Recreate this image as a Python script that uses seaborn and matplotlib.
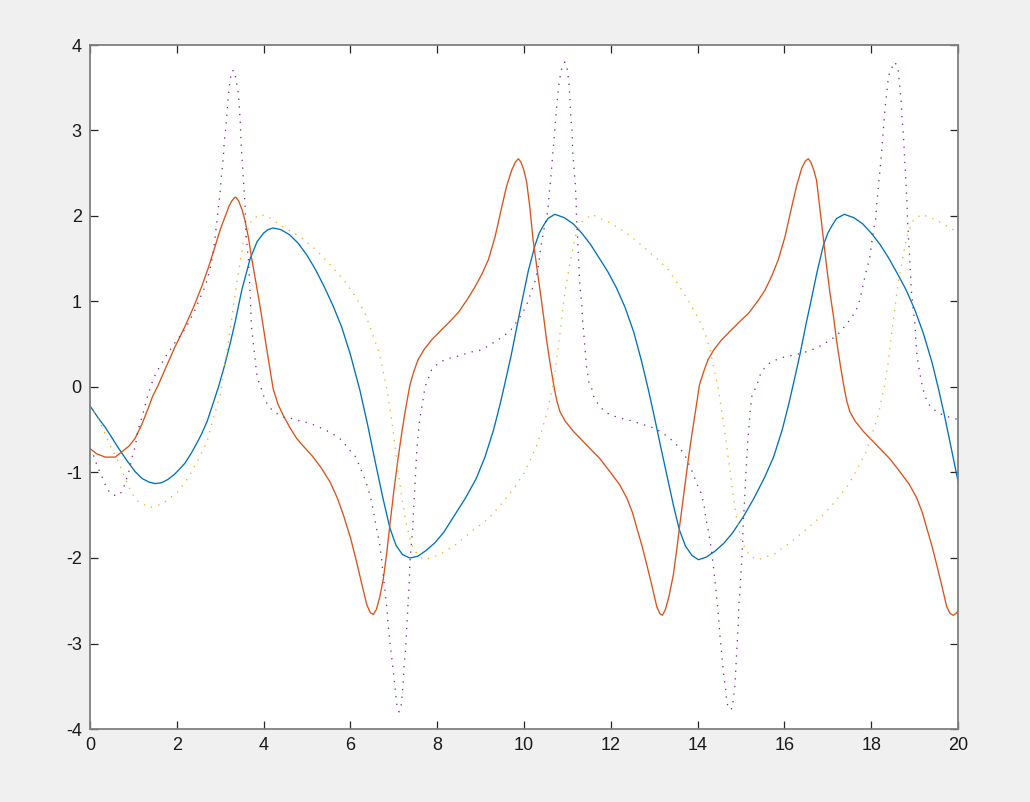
import matplotlib
matplotlib.use("Agg")
import matplotlib.pyplot as plt
import seaborn as sns

# ---- data ----
blue_x = [0, 0.2, 0.35, 0.5, 0.65, 0.85, 1.04, 1.2, 1.35, 1.5,
          1.65, 1.8, 1.95, 2.1, 2.19, 2.35, 2.5, 2.57, 2.7, 2.85,
          2.96, 3.1, 3.23, 3.34, 3.5, 3.69, 3.85, 4.0, 4.1, 4.22,
          4.4, 4.6, 4.8, 5.0, 5.2, 5.4, 5.6, 5.8, 6.0, 6.22,
          6.4, 6.57, 6.75, 6.91, 7.05, 7.2, 7.37, 7.55, 7.75, 7.95,
          8.15, 8.4, 8.65, 8.9, 9.1, 9.3, 9.45, 9.55, 9.7, 9.85,
          9.94, 10.1, 10.25, 10.35, 10.45, 10.55, 10.71, 10.93, 11.13, 11.33,
          11.53, 11.73, 11.93, 12.13, 12.33, 12.53, 12.71, 12.86, 13.0, 13.15,
          13.3, 13.45, 13.58, 13.72, 13.87, 14.02, 14.2, 14.4, 14.6, 14.8,
          15.05, 15.3, 15.55, 15.75, 15.95, 16.1, 16.2, 16.35, 16.5, 16.59,
          16.75, 16.9, 17.0, 17.1, 17.2, 17.38, 17.6, 17.8, 18.0, 18.2,
          18.4, 18.6, 18.8, 19.0, 19.2, 19.4, 19.55, 19.7, 19.85, 20.0]
blue_y = [-0.22, -0.37, -0.47, -0.59, -0.71, -0.86, -0.99, -1.07, -1.11, -1.13,
          -1.12, -1.08, -1.02, -0.94, -0.89, -0.76, -0.62, -0.55, -0.4, -0.17,
          0.0, 0.25, 0.51, 0.75, 1.14, 1.5, 1.7, 1.8, 1.84, 1.86,
          1.84, 1.78, 1.68, 1.54, 1.37, 1.17, 0.95, 0.7, 0.38, -0.04,
          -0.45, -0.87, -1.3, -1.65, -1.85, -1.96, -2.0, -1.98, -1.91, -1.82,
          -1.7, -1.5, -1.3, -1.07, -0.82, -0.5, -0.2, 0.02, 0.36, 0.74,
          0.97, 1.36, 1.65, 1.8, 1.89, 1.97, 2.02, 1.98, 1.91, 1.8,
          1.67, 1.51, 1.35, 1.16, 0.93, 0.64, 0.3, -0.02, -0.34, -0.7,
          -1.05, -1.4, -1.67, -1.86, -1.97, -2.02, -1.99, -1.92, -1.83, -1.71,
          -1.52, -1.3, -1.05, -0.82, -0.5, -0.2, 0.02, 0.36, 0.74, 0.95,
          1.34, 1.66, 1.8, 1.89, 1.97, 2.02, 1.98, 1.91, 1.8, 1.67,
          1.51, 1.33, 1.14, 0.91, 0.63, 0.29, -0.02, -0.36, -0.73, -1.1]

red_x = [0, 0.15, 0.35, 0.58, 0.73, 0.9, 1.04, 1.2, 1.34, 1.45,
         1.57, 1.75, 1.95, 2.19, 2.4, 2.57, 2.73, 2.88, 3.0, 3.11,
         3.2, 3.26, 3.32, 3.36, 3.42, 3.5, 3.57, 3.65, 3.72, 3.82,
         3.92, 4.07, 4.22, 4.33, 4.45, 4.6, 4.76, 4.93, 5.11, 5.32,
         5.53, 5.7, 5.84, 6.0, 6.14, 6.27, 6.38, 6.46, 6.53, 6.6,
         6.68, 6.76, 6.84, 6.91, 7.0, 7.1, 7.18, 7.26, 7.32, 7.37,
         7.46, 7.56, 7.7, 7.87, 8.1, 8.3, 8.5, 8.7, 8.87, 9.03,
         9.18, 9.33, 9.49, 9.6, 9.72, 9.8, 9.87, 9.93, 10.0, 10.06,
         10.13, 10.21, 10.29, 10.37, 10.45, 10.52, 10.61, 10.7, 10.76, 10.83,
         10.95, 11.14, 11.33, 11.52, 11.75, 11.98, 12.2, 12.37, 12.5, 12.6,
         12.72, 12.83, 12.95, 13.06, 13.13, 13.19, 13.26, 13.34, 13.44, 13.52,
         13.59, 13.69, 13.79, 13.87, 13.95, 14.0, 14.04, 14.14, 14.24, 14.38,
         14.55, 14.78, 14.98, 15.17, 15.38, 15.55, 15.71, 15.86, 16.01, 16.17,
         16.28, 16.4, 16.48, 16.55, 16.61, 16.68, 16.74, 16.81, 16.9, 16.97,
         17.05, 17.13, 17.2, 17.29, 17.38, 17.44, 17.51, 17.63, 17.82, 18.01,
         18.2, 18.43, 18.66, 18.88, 19.05, 19.18, 19.28, 19.4, 19.51, 19.63,
         19.74, 19.82, 19.89, 19.95, 20.0]
red_y = [-0.72, -0.78, -0.82, -0.82, -0.76, -0.69, -0.6, -0.43, -0.25, -0.1,
         0.02, 0.23, 0.46, 0.71, 0.95, 1.17, 1.4, 1.64, 1.84, 1.99,
         2.11, 2.17, 2.21, 2.22, 2.18, 2.08, 1.95, 1.75, 1.52, 1.23,
         0.94, 0.45, -0.02, -0.2, -0.33, -0.47, -0.6, -0.7, -0.8, -0.94,
         -1.11, -1.3, -1.5, -1.76, -2.04, -2.32, -2.55, -2.64, -2.66, -2.6,
         -2.45, -2.24, -1.93, -1.61, -1.22, -0.83, -0.55, -0.29, -0.12, 0.02,
         0.18, 0.32, 0.44, 0.55, 0.67, 0.77, 0.88, 1.03, 1.17, 1.32,
         1.49, 1.75, 2.11, 2.35, 2.54, 2.63, 2.67, 2.63, 2.53, 2.4,
         2.12, 1.72, 1.42, 1.13, 0.83, 0.55, 0.25, -0.02, -0.17, -0.29,
         -0.4, -0.52, -0.62, -0.72, -0.84, -0.99, -1.14, -1.3, -1.47, -1.65,
         -1.86, -2.08, -2.33, -2.57, -2.65, -2.67, -2.6, -2.45, -2.2, -1.9,
         -1.61, -1.22, -0.83, -0.55, -0.29, -0.12, 0.02, 0.18, 0.32, 0.44,
         0.55, 0.67, 0.77, 0.86, 1.0, 1.13, 1.3, 1.49, 1.75, 2.11,
         2.35, 2.56, 2.64, 2.67, 2.63, 2.53, 2.42, 2.12, 1.72, 1.42,
         1.1, 0.83, 0.55, 0.25, -0.02, -0.17, -0.29, -0.4, -0.52, -0.62,
         -0.72, -0.84, -0.99, -1.14, -1.3, -1.47, -1.65, -1.86, -2.08, -2.33,
         -2.57, -2.65, -2.67, -2.65, -2.62]

yellow_x = [0, 0.23, 0.46, 0.65, 0.81, 0.96, 1.11, 1.38, 1.65, 1.84,
            2.04, 2.3, 2.5, 2.69, 2.84, 3.0, 3.23, 3.38, 3.53, 3.72,
            3.92, 4.11, 4.45, 4.84, 5.22, 5.57, 5.88, 6.14, 6.34, 6.53,
            6.67, 6.83, 6.92, 7.0, 7.09, 7.18, 7.28, 7.4, 7.55, 7.72,
            8.06, 8.41, 8.79, 9.18, 9.51, 9.79, 10.01, 10.12, 10.28, 10.41,
            10.52, 10.64, 10.71, 10.83, 10.94, 11.06, 11.18, 11.33, 11.56, 11.98,
            12.37, 12.75, 13.13, 13.33, 13.59, 13.82, 14.02, 14.17, 14.29, 14.4,
            14.48, 14.55, 14.64, 14.74, 14.82, 14.9, 15.01, 15.21, 15.4, 15.78,
            16.13, 16.47, 16.69, 16.86, 17.05, 17.2, 17.36, 17.49, 17.6, 17.7,
            17.88, 18.01, 18.13, 18.22, 18.3, 18.39, 18.47, 18.55, 18.62, 18.72,
            18.82, 18.97, 19.16, 19.51, 19.89, 20.0]
yellow_y = [-0.21, -0.41, -0.68, -0.87, -1.07, -1.24, -1.34, -1.41, -1.37, -1.3,
            -1.22, -1.03, -0.84, -0.65, -0.37, -0.09, 0.67, 1.21, 1.68, 1.95,
            2.02, 1.99, 1.87, 1.76, 1.6, 1.41, 1.23, 1.04, 0.86, 0.59,
            0.39, 0.0, -0.27, -0.58, -0.95, -1.28, -1.58, -1.83, -1.97, -2.02,
            -1.96, -1.85, -1.69, -1.54, -1.35, -1.17, -1.0, -0.88, -0.7, -0.51,
            -0.32, -0.05, 0.16, 0.63, 1.1, 1.45, 1.76, 1.93, 2.02, 1.92,
            1.8, 1.64, 1.47, 1.37, 1.17, 0.98, 0.8, 0.63, 0.43, 0.16,
            -0.02, -0.27, -0.58, -0.95, -1.26, -1.54, -1.81, -1.98, -2.02, -1.95,
            -1.82, -1.68, -1.58, -1.51, -1.41, -1.32, -1.22, -1.13, -1.03, -0.94,
            -0.76, -0.56, -0.39, -0.19, 0.0, 0.28, 0.63, 0.94, 1.21, 1.49,
            1.76, 1.95, 2.02, 1.95, 1.84, 1.82]

purple_x = [0, 0.08, 0.15, 0.23, 0.31, 0.38, 0.5, 0.61, 0.69, 0.78,
            0.84, 0.9, 0.98, 1.04, 1.11, 1.21, 1.31, 1.42, 1.51, 1.61,
            1.71, 1.84, 1.96, 2.11, 2.23, 2.33, 2.42, 2.5, 2.57, 2.65,
            2.71, 2.76, 2.83, 2.88, 2.92, 2.96, 3.0, 3.03, 3.07, 3.09,
            3.13, 3.16, 3.19, 3.23, 3.27, 3.33, 3.42, 3.46, 3.49, 3.53,
            3.57, 3.59, 3.65, 3.69, 3.72, 3.78, 3.84, 3.9, 3.96, 4.02,
            4.11, 4.3, 4.49, 4.68, 4.85, 5.04, 5.24, 5.41, 5.6, 5.8,
            5.95, 6.11, 6.2, 6.28, 6.36, 6.41, 6.47, 6.54, 6.6, 6.64,
            6.68, 6.72, 6.76, 6.8, 6.84, 6.87, 6.91, 6.95, 6.99, 7.03,
            7.07, 7.12, 7.17, 7.21, 7.24, 7.27, 7.29, 7.32, 7.34, 7.36,
            7.37, 7.4, 7.43, 7.45, 7.47, 7.49, 7.51, 7.53, 7.56, 7.6,
            7.66, 7.72, 7.87, 8.03, 8.22, 8.41, 8.6, 8.79, 8.99, 9.18,
            9.33, 9.52, 9.7, 9.83, 9.96, 10.06, 10.18, 10.25, 10.33, 10.38,
            10.44, 10.51, 10.55, 10.58, 10.62, 10.65, 10.68, 10.71, 10.74, 10.77,
            10.81, 10.87, 10.94, 11.0, 11.04, 11.06, 11.08, 11.11, 11.12, 11.15,
            11.18, 11.2, 11.21, 11.23, 11.25, 11.27, 11.29, 11.33, 11.35, 11.38,
            11.41, 11.44, 11.5, 11.56, 11.61, 11.73, 11.89, 12.07, 12.26, 12.44,
            12.63, 12.81, 12.99, 13.17, 13.36, 13.54, 13.69, 13.86, 14.0, 14.08,
            14.13, 14.17, 14.19, 14.23, 14.26, 14.29, 14.32, 14.36, 14.38, 14.42,
            14.44, 14.46, 14.49, 14.52, 14.54, 14.57, 14.59, 14.61, 14.64, 14.67,
            14.72, 14.8, 14.82, 14.84, 14.86, 14.88, 14.9, 14.92, 14.94, 14.95,
            14.98, 15.0, 15.02, 15.04, 15.05, 15.07, 15.09, 15.11, 15.13, 15.15,
            15.18, 15.21, 15.25, 15.3, 15.36, 15.4, 15.47, 15.63, 15.82, 15.99,
            16.18, 16.37, 16.55, 16.71, 16.9, 17.09, 17.28, 17.44, 17.57, 17.67,
            17.74, 17.82, 17.9, 17.96, 18.01, 18.06, 18.1, 18.13, 18.16, 18.2,
            18.23, 18.26, 18.29, 18.32, 18.36, 18.4, 18.47, 18.55, 18.62, 18.66,
            18.69, 18.71, 18.74, 18.76, 18.78, 18.8, 18.82, 18.83, 18.85, 18.87,
            18.89, 18.91, 18.93, 18.97, 19.01, 19.03, 19.06, 19.12, 19.19, 19.26,
            19.35, 19.53, 19.72, 19.91, 20.0]
purple_y = [-0.72, -0.8, -0.9, -1.0, -1.09, -1.18, -1.26, -1.27, -1.26, -1.17,
            -1.08, -0.98, -0.8, -0.7, -0.5, -0.33, -0.14, 0.04, 0.15, 0.24,
            0.33, 0.43, 0.52, 0.62, 0.71, 0.81, 0.9, 1.0, 1.08, 1.17,
            1.27, 1.37, 1.54, 1.74, 1.92, 2.11, 2.29, 2.48, 2.67, 2.85,
            3.04, 3.23, 3.42, 3.6, 3.7, 3.7, 3.43, 3.12, 2.77, 2.46,
            2.15, 1.82, 1.49, 1.1, 0.71, 0.43, 0.16, 0.04, -0.04, -0.13,
            -0.23, -0.31, -0.36, -0.37, -0.4, -0.42, -0.46, -0.5, -0.55, -0.62,
            -0.72, -0.81, -0.91, -1.01, -1.11, -1.2, -1.3, -1.48, -1.65, -1.75,
            -1.85, -2.02, -2.22, -2.39, -2.59, -2.78, -2.98, -3.15, -3.33, -3.52,
            -3.72, -3.8, -3.72, -3.5, -3.25, -3.08, -2.9, -2.63, -2.43, -2.24,
            -2.04, -1.87, -1.69, -1.5, -1.3, -1.13, -0.93, -0.74, -0.56, -0.37,
            -0.19, 0.0, 0.2, 0.28, 0.33, 0.35, 0.38, 0.41, 0.43, 0.48,
            0.53, 0.59, 0.67, 0.76, 0.86, 0.96, 1.13, 1.23, 1.41, 1.6,
            1.8, 1.95, 2.07, 2.26, 2.46, 2.64, 2.83, 3.01, 3.2, 3.38,
            3.57, 3.73, 3.8, 3.71, 3.53, 3.34, 3.14, 2.97, 2.77, 2.58,
            2.38, 2.19, 1.99, 1.8, 1.56, 1.37, 1.17, 0.98, 0.78, 0.61,
            0.43, 0.24, 0.04, -0.02, -0.12, -0.22, -0.3, -0.34, -0.37, -0.39,
            -0.42, -0.45, -0.48, -0.53, -0.6, -0.69, -0.78, -0.97, -1.15, -1.24,
            -1.34, -1.44, -1.54, -1.63, -1.72, -1.81, -1.91, -2.08, -2.18, -2.37,
            -2.46, -2.56, -2.74, -2.94, -3.04, -3.21, -3.31, -3.41, -3.5, -3.68,
            -3.77, -3.76, -3.67, -3.58, -3.49, -3.31, -3.11, -2.92, -2.74, -2.55,
            -2.35, -2.18, -1.98, -1.8, -1.61, -1.44, -1.24, -1.05, -0.85, -0.68,
            -0.48, -0.29, -0.11, -0.04, 0.0, 0.08, 0.18, 0.27, 0.32, 0.35,
            0.37, 0.39, 0.42, 0.45, 0.5, 0.56, 0.64, 0.74, 0.83, 0.92,
            1.02, 1.21, 1.39, 1.49, 1.68, 1.86, 1.95, 2.15, 2.32, 2.52,
            2.69, 2.89, 3.08, 3.26, 3.45, 3.64, 3.73, 3.8, 3.71, 3.51,
            3.34, 3.14, 2.97, 2.77, 2.58, 2.4, 2.21, 2.03, 1.84, 1.64,
            1.47, 1.27, 1.1, 0.9, 0.73, 0.53, 0.35, 0.16, -0.02, -0.13,
            -0.22, -0.3, -0.34, -0.37, -0.38]

x_ticks = [0, 2, 4, 6, 8, 10, 12, 14, 16, 18, 20]
y_ticks = [-4, -3, -2, -1, 0, 1, 2, 3, 4]

series = [
    (blue_x, blue_y, "#0072BD", "-"),
    (red_x, red_y, "#D95319", "-"),
    (yellow_x, yellow_y, "#EDB120", (0, (1, 4.8))),
    (purple_x, purple_y, "#7E2F8E", (0, (1, 4.8))),
]

# ---- drawing ----
sns.set_style("white")
plt.rcParams["font.family"] = ["Liberation Sans", "DejaVu Sans"]
plt.rcParams["axes.unicode_minus"] = False

fig = plt.figure(figsize=(10.3, 8.02), dpi=100, facecolor="#F0F0F0")
ax = fig.add_axes([90 / 1030, 1 - 729 / 802, 868 / 1030, 684 / 802])
ax.set_facecolor("white")

for xs, ys, col, ls in series:
    assert len(xs) == len(ys)
    sns.lineplot(x=xs, y=ys, ax=ax, color=col, linewidth=0.95,
                 estimator=None, sort=False, linestyle=ls)

ax.set_xlim(0, 20)
ax.set_ylim(-4, 4)
ax.set_xticks(x_ticks)
ax.set_yticks(y_ticks)
ax.set_xticklabels([str(t) for t in x_ticks])
ax.set_yticklabels([str(t) for t in y_ticks])
ax.tick_params(direction="in", length=6, width=0.9, color="#262626",
               labelcolor="#1a1a1a", labelsize=13, pad=6,
               top=True, right=True, bottom=True, left=True)
for sp in ax.spines.values():
    sp.set_visible(True)
    sp.set_color("#808080")
    sp.set_linewidth(1.3)
ax.grid(False)

fig.savefig("out.png", dpi=100, facecolor=fig.get_facecolor())
